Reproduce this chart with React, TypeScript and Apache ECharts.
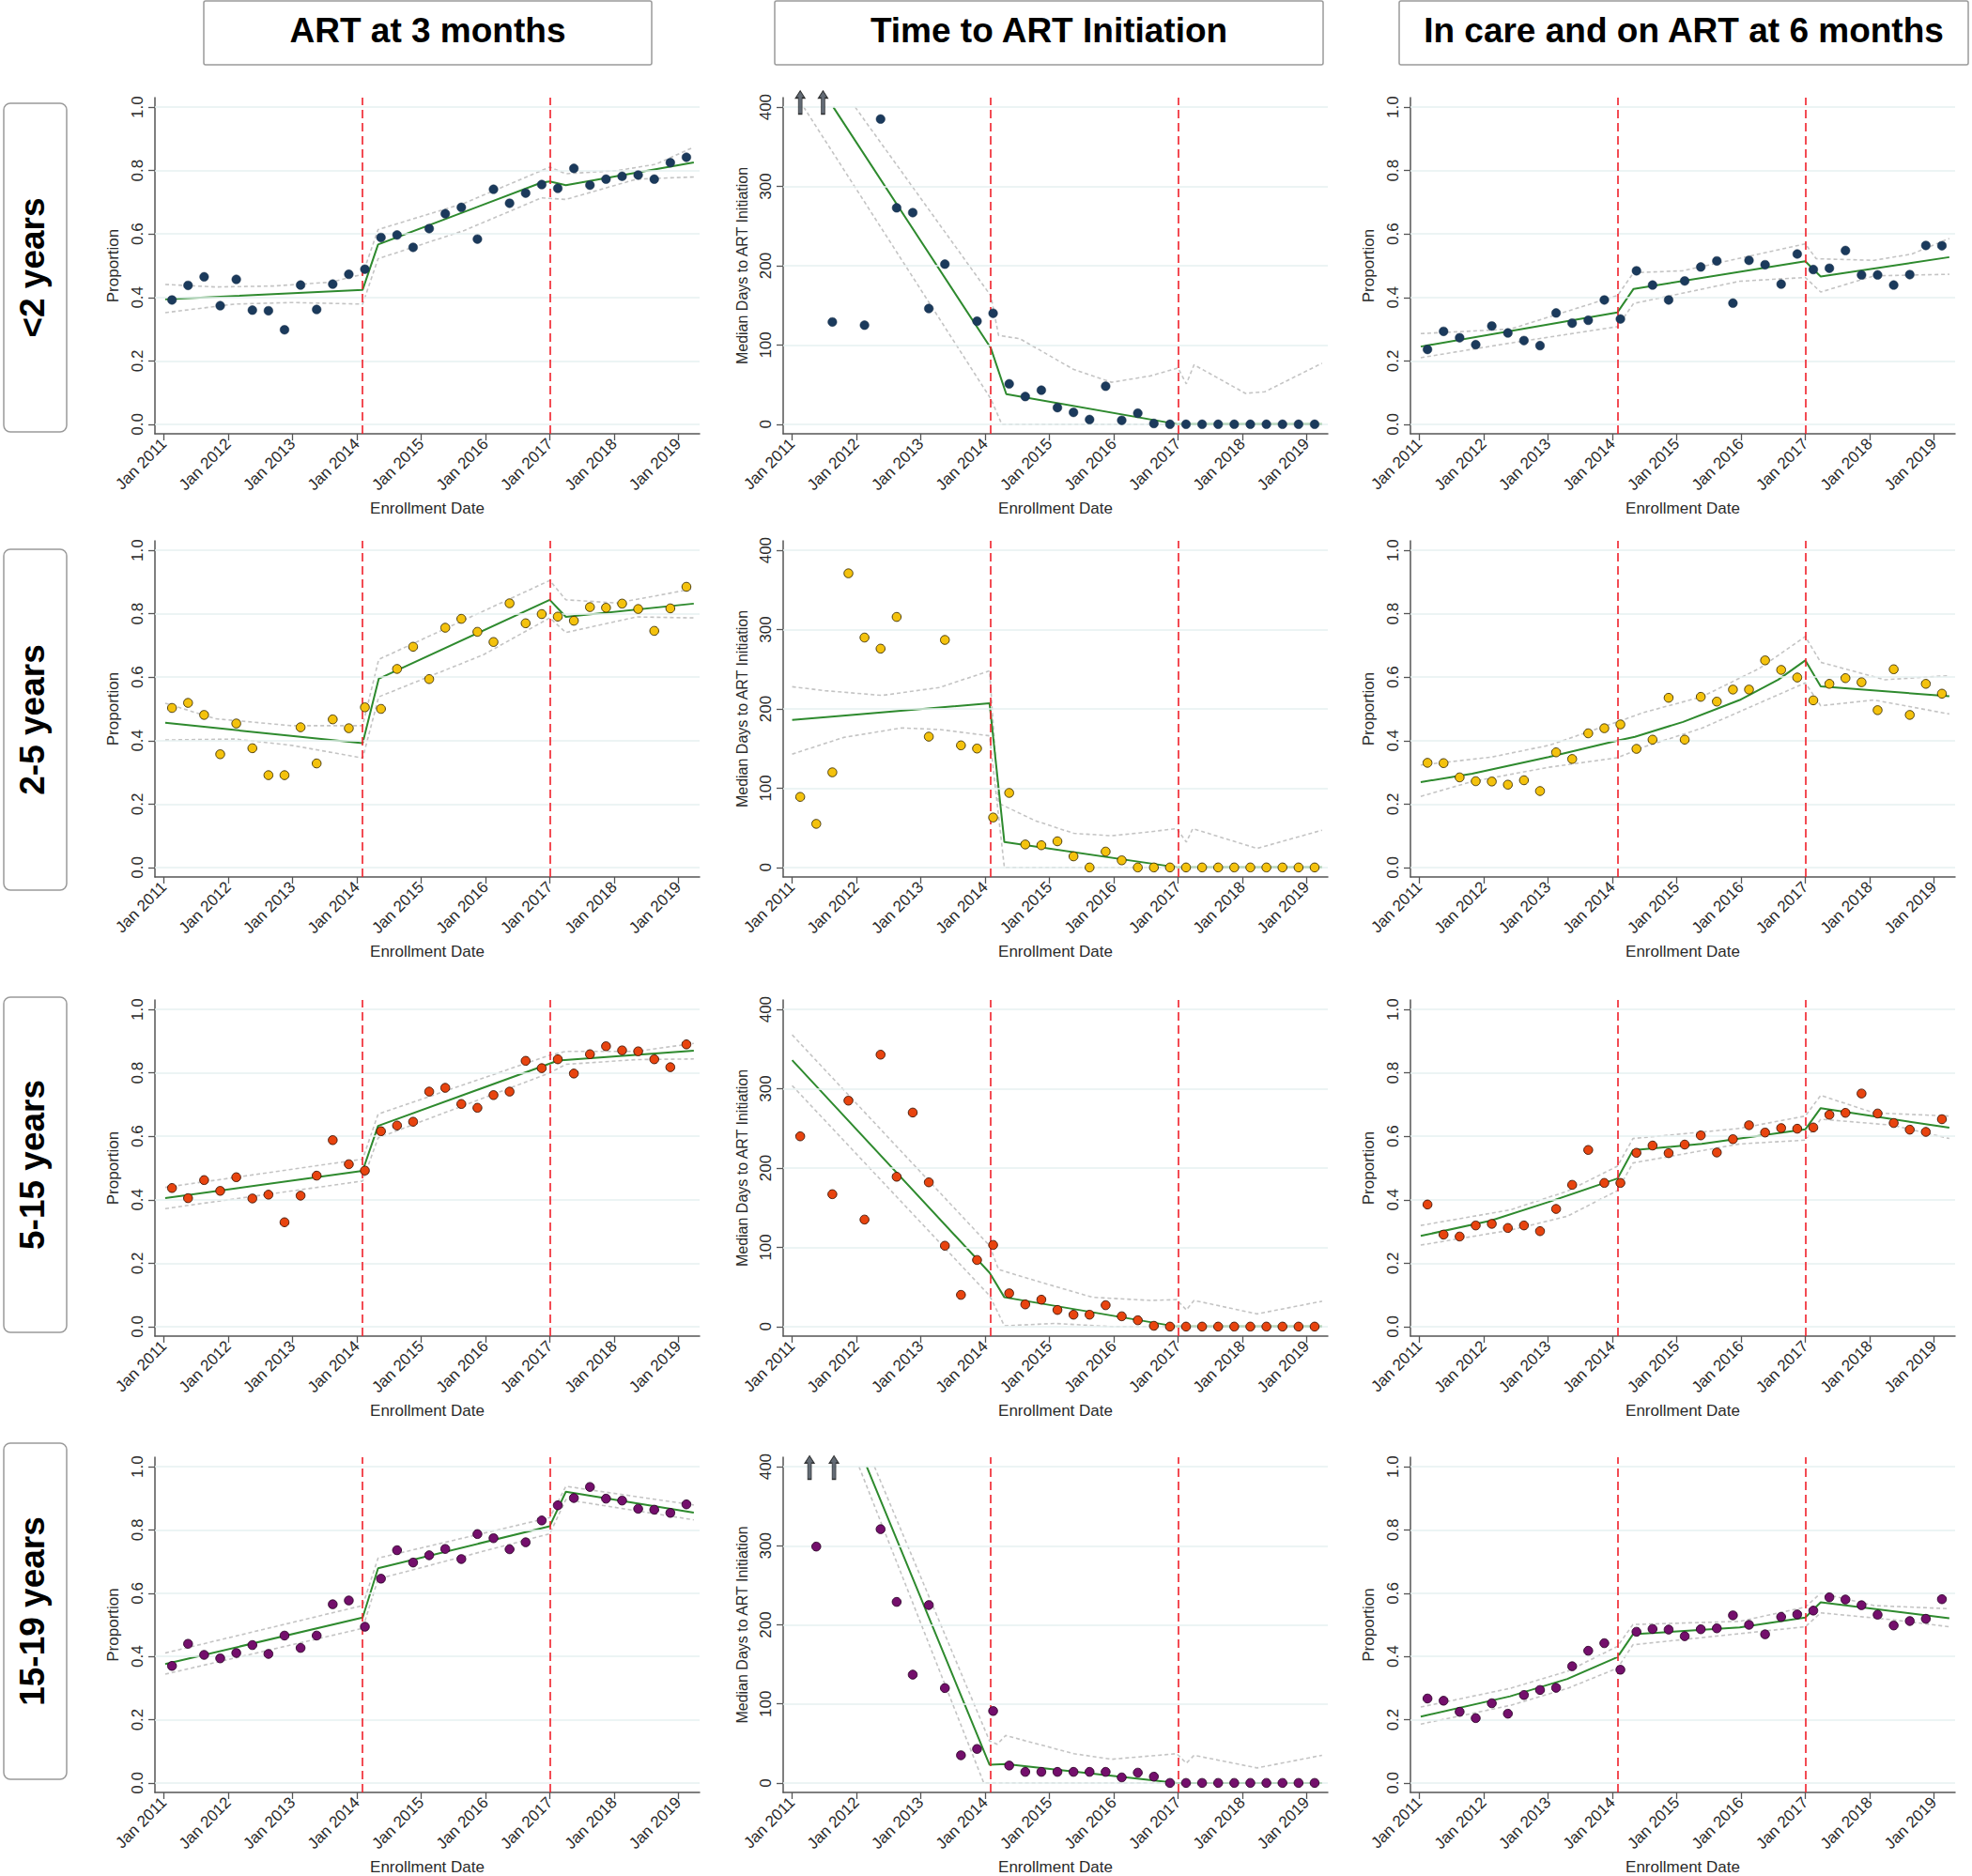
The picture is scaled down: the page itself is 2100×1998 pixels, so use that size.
import React, { useEffect, useRef } from "react";
import * as echarts from "echarts";

// ---------- axes / categories ----------
const yearTicks = [2011, 2012, 2013, 2014, 2015, 2016, 2017, 2018, 2019];
const propTicks = [0, 0.2, 0.4, 0.6, 0.8, 1.0];
const dayTicks = [0, 100, 200, 300, 400];
const interventionX = [2014.09, 2017.0];
const colTitles = ["ART at 3 months", "Time to ART Initiation", "In care and on ART at 6 months"];
const rowTitles = ["<2 years", "2-5 years", "5-15 years", "15-19 years"];

// quarter midpoints (Q1 2011 ... Q1 2019)
const quarterX = [
  2011.125, 2011.375, 2011.625, 2011.875, 2012.125, 2012.375, 2012.625, 2012.875,
  2013.125, 2013.375, 2013.625, 2013.875, 2014.125, 2014.375, 2014.625, 2014.875,
  2015.125, 2015.375, 2015.625, 2015.875, 2016.125, 2016.375, 2016.625, 2016.875,
  2017.125, 2017.375, 2017.625, 2017.875, 2018.125, 2018.375, 2018.625, 2018.875,
  2019.125,
];

// ---------- <2 years ----------
const art3Lt2 = [0.392, 0.438, 0.465, 0.374, 0.457, 0.36, 0.358, 0.298, 0.439, 0.362, 0.442, 0.473, 0.489, 0.589, 0.597, 0.558, 0.617, 0.664, 0.684, 0.584, 0.741, 0.697, 0.729, 0.756, 0.744, 0.807, 0.754, 0.773, 0.782, 0.786, 0.773, 0.825, 0.842];
const art3Lt2Fit = [[2011.02, 0.394], [2014.09, 0.424], [2014.33, 0.567], [2016.87, 0.762], [2017.0, 0.766], [2017.25, 0.754], [2019.24, 0.826]];
const art3Lt2Up = [[2011.02, 0.441], [2011.8, 0.433], [2012.7, 0.436], [2013.59, 0.448], [2014.09, 0.473], [2014.33, 0.614], [2015.67, 0.697], [2017.0, 0.811], [2017.25, 0.79], [2018.05, 0.8], [2018.65, 0.82], [2019.24, 0.874]];
const art3Lt2Lo = [[2011.02, 0.352], [2012.1, 0.379], [2012.99, 0.384], [2014.09, 0.379], [2014.33, 0.522], [2015.67, 0.611], [2016.87, 0.714], [2017.25, 0.709], [2018.35, 0.773], [2019.24, 0.78]];

const timeLt2 = [null, null, 129, null, 125, 385, 273, 267, 146, 202, null, 130, 140, 51, 35, 43, 21, 15, 6, 48, 5, 14, 1, 0, 0, 0, 0, 0, 0, 0, 0, 0, 0];
const timeLt2Arrows = [[2011.125, 406], [2011.48, 406]];
const timeLt2Fit = [[2011.64, 400], [2014.09, 96], [2014.33, 38], [2017.0, 0], [2019.24, 0]];
const timeLt2Up = [[2011.98, 400], [2014.09, 162], [2014.21, 112], [2014.54, 108], [2015.38, 69], [2015.97, 53], [2016.57, 61], [2017.0, 71], [2017.13, 51], [2017.25, 75], [2018.05, 39], [2018.35, 41], [2019.24, 77]];
const timeLt2Lo = [[2011.18, 400], [2014.09, 32], [2014.26, 0], [2019.24, 0]];

const careLt2 = [0.236, 0.293, 0.273, 0.251, 0.31, 0.288, 0.264, 0.248, 0.351, 0.319, 0.328, 0.392, 0.332, 0.484, 0.439, 0.392, 0.452, 0.496, 0.515, 0.382, 0.517, 0.503, 0.442, 0.537, 0.488, 0.492, 0.548, 0.471, 0.471, 0.439, 0.472, 0.564, 0.563];
const careLt2Fit = [[2011.02, 0.245], [2014.08, 0.353], [2014.33, 0.427], [2017.0, 0.514], [2017.24, 0.466], [2019.24, 0.527]];
const careLt2Up = [[2011.02, 0.286], [2012.41, 0.3], [2014.08, 0.406], [2014.33, 0.478], [2015.09, 0.484], [2017.0, 0.569], [2017.17, 0.522], [2018.07, 0.517], [2018.66, 0.537], [2019.24, 0.586]];
const careLt2Lo = [[2011.02, 0.21], [2012.41, 0.256], [2014.08, 0.308], [2014.33, 0.381], [2015.98, 0.451], [2017.0, 0.463], [2017.24, 0.417], [2018.07, 0.468], [2019.24, 0.473]];

// ---------- 2-5 years ----------
const art3Y25 = [0.503, 0.519, 0.481, 0.357, 0.454, 0.376, 0.291, 0.291, 0.442, 0.328, 0.467, 0.439, 0.505, 0.5, 0.626, 0.696, 0.594, 0.756, 0.784, 0.743, 0.711, 0.833, 0.77, 0.799, 0.791, 0.778, 0.821, 0.819, 0.832, 0.815, 0.746, 0.817, 0.885];
const art3Y25Fit = [[2011.02, 0.456], [2014.09, 0.392], [2014.34, 0.595], [2017.0, 0.844], [2017.25, 0.79], [2019.24, 0.832]];
const art3Y25Up = [[2011.02, 0.518], [2011.8, 0.469], [2012.99, 0.447], [2014.09, 0.447], [2014.34, 0.656], [2017.0, 0.905], [2017.25, 0.844], [2018.05, 0.834], [2019.24, 0.879]];
const art3Y25Lo = [[2011.02, 0.402], [2012.1, 0.405], [2012.99, 0.385], [2014.09, 0.345], [2014.34, 0.538], [2015.97, 0.671], [2017.0, 0.787], [2017.25, 0.741], [2018.35, 0.79], [2019.24, 0.787]];

const timeY25 = [89, 55, 120, 371, 290, 276, 316, null, 165, 287, 154, 150, 63, 94, 29, 28, 33, 14, 0, 20, 9, 0, 0, 0, 0, 0, 0, 0, 0, 0, 0, 0, 0];
const timeY25Fit = [[2011.0, 186], [2014.07, 207], [2014.3, 32], [2017.0, 0], [2019.24, 0]];
const timeY25Up = [[2011.0, 228], [2011.51, 223], [2012.4, 217], [2013.29, 227], [2014.07, 248], [2014.21, 81], [2014.78, 59], [2015.38, 43], [2015.97, 40], [2016.57, 45], [2016.98, 49], [2017.13, 32], [2017.23, 49], [2018.23, 24], [2019.24, 47]];
const timeY25Lo = [[2011.0, 143], [2011.8, 164], [2012.7, 176], [2013.29, 174], [2014.07, 166], [2014.3, 0], [2019.24, 0]];

const careY25 = [0.33, 0.329, 0.284, 0.272, 0.271, 0.261, 0.275, 0.241, 0.363, 0.342, 0.423, 0.439, 0.451, 0.374, 0.403, 0.535, 0.403, 0.538, 0.523, 0.561, 0.561, 0.653, 0.623, 0.599, 0.527, 0.579, 0.597, 0.584, 0.496, 0.625, 0.481, 0.579, 0.548];
const careY25Fit = [[2011.02, 0.269], [2011.82, 0.296], [2013.01, 0.348], [2014.08, 0.4], [2014.35, 0.412], [2015.1, 0.459], [2015.98, 0.528], [2016.58, 0.592], [2017.0, 0.653], [2017.24, 0.571], [2019.24, 0.54]];
const careY25Up = [[2011.02, 0.323], [2012.12, 0.348], [2013.01, 0.385], [2014.08, 0.459], [2014.49, 0.489], [2015.39, 0.538], [2016.28, 0.627], [2017.0, 0.728], [2017.24, 0.647], [2018.24, 0.592], [2019.24, 0.605]];
const careY25Lo = [[2011.02, 0.224], [2011.82, 0.271], [2013.01, 0.316], [2014.08, 0.346], [2014.49, 0.38], [2015.39, 0.439], [2016.28, 0.518], [2017.0, 0.582], [2017.24, 0.51], [2018.07, 0.528], [2019.24, 0.484]];

// ---------- 5-15 years ----------
const art3Y515 = [0.437, 0.405, 0.462, 0.428, 0.471, 0.404, 0.416, 0.329, 0.413, 0.476, 0.588, 0.512, 0.492, 0.616, 0.634, 0.646, 0.741, 0.753, 0.702, 0.69, 0.73, 0.741, 0.838, 0.815, 0.843, 0.798, 0.859, 0.884, 0.871, 0.868, 0.843, 0.818, 0.89];
const art3Y515Fit = [[2011.02, 0.405], [2014.09, 0.491], [2014.33, 0.633], [2016.86, 0.819], [2017.13, 0.839], [2019.24, 0.87]];
const art3Y515Up = [[2011.02, 0.439], [2014.09, 0.528], [2014.33, 0.67], [2017.0, 0.856], [2017.25, 0.868], [2018.35, 0.868], [2019.24, 0.893]];
const art3Y515Lo = [[2011.02, 0.372], [2014.09, 0.459], [2014.33, 0.595], [2017.0, 0.8], [2017.25, 0.827], [2018.35, 0.842], [2019.24, 0.844]];

const timeY515 = [240, null, 167, 285, 135, 343, 189, 270, 182, 102, 40, 84, 103, 42, 28, 34, 21, 15, 15, 27, 13, 8, 1, 0, 0, 0, 0, 0, 0, 0, 0, 0, 0];
const timeY515Fit = [[2011.0, 336], [2014.07, 68], [2014.3, 37], [2016.98, 0], [2019.24, 0]];
const timeY515Up = [[2011.0, 368], [2014.07, 102], [2014.21, 72], [2014.78, 58], [2015.67, 37], [2016.57, 33], [2016.98, 34], [2017.13, 21], [2017.25, 33], [2018.23, 16], [2019.24, 32]];
const timeY515Lo = [[2011.0, 304], [2014.07, 39], [2014.3, 1], [2015.08, 4], [2015.97, 0], [2019.24, 0]];

const careY515 = [0.385, 0.29, 0.284, 0.319, 0.324, 0.311, 0.319, 0.301, 0.371, 0.447, 0.557, 0.453, 0.453, 0.548, 0.571, 0.547, 0.574, 0.603, 0.549, 0.591, 0.635, 0.612, 0.626, 0.624, 0.628, 0.668, 0.674, 0.735, 0.672, 0.642, 0.621, 0.614, 0.654];
const careY515Fit = [[2011.02, 0.286], [2012.11, 0.334], [2013.01, 0.393], [2014.08, 0.467], [2014.32, 0.556], [2015.39, 0.576], [2017.0, 0.622], [2017.24, 0.689], [2019.24, 0.627]];
const careY515Up = [[2011.02, 0.319], [2012.41, 0.368], [2013.3, 0.427], [2014.08, 0.506], [2014.32, 0.593], [2015.98, 0.625], [2017.0, 0.664], [2017.24, 0.729], [2018.07, 0.674], [2019.24, 0.664]];
const careY515Lo = [[2011.02, 0.257], [2012.41, 0.304], [2013.3, 0.348], [2014.08, 0.429], [2014.32, 0.516], [2015.98, 0.576], [2017.0, 0.588], [2017.24, 0.654], [2018.36, 0.635], [2019.24, 0.593]];

// ---------- 15-19 years ----------
const art3Y1519 = [0.37, 0.44, 0.405, 0.394, 0.411, 0.436, 0.408, 0.466, 0.427, 0.466, 0.565, 0.577, 0.494, 0.646, 0.736, 0.697, 0.72, 0.74, 0.708, 0.787, 0.774, 0.739, 0.761, 0.83, 0.878, 0.901, 0.936, 0.899, 0.893, 0.867, 0.864, 0.854, 0.881];
const art3Y1519Fit = [[2011.02, 0.376], [2014.09, 0.523], [2014.33, 0.679], [2017.0, 0.812], [2017.25, 0.921], [2019.24, 0.855]];
const art3Y1519Up = [[2011.02, 0.411], [2014.09, 0.561], [2014.33, 0.711], [2017.0, 0.839], [2017.25, 0.938], [2019.24, 0.879]];
const art3Y1519Lo = [[2011.02, 0.344], [2014.09, 0.489], [2014.33, 0.645], [2017.0, 0.788], [2017.25, 0.896], [2019.24, 0.832]];

const timeY1519 = [null, 299, null, null, null, 321, 229, 137, 225, 120, 35, 43, 91, 22, 14, 14, 14, 14, 14, 14, 7, 13, 8, 0, 0, 0, 0, 0, 0, 0, 0, 0, 0];
const timeY1519Arrows = [[2011.27, 399], [2011.65, 399]];
const timeY1519Fit = [[2012.16, 400], [2014.07, 23], [2014.32, 24], [2016.86, 1], [2016.98, 0], [2019.24, 0]];
const timeY1519Up = [[2012.28, 400], [2014.07, 53], [2014.19, 49], [2014.32, 60], [2015.38, 37], [2015.97, 30], [2016.98, 37], [2017.13, 25], [2017.25, 35], [2018.23, 19], [2019.24, 35]];
const timeY1519Lo = [[2012.04, 400], [2013.98, 0], [2019.24, 0]];

const careY1519 = [0.267, 0.26, 0.225, 0.205, 0.252, 0.219, 0.278, 0.294, 0.301, 0.369, 0.418, 0.442, 0.358, 0.478, 0.487, 0.485, 0.464, 0.486, 0.489, 0.53, 0.5, 0.47, 0.525, 0.533, 0.545, 0.587, 0.58, 0.562, 0.532, 0.498, 0.512, 0.519, 0.581];
const careY1519Fit = [[2011.02, 0.21], [2012.41, 0.274], [2013.3, 0.329], [2014.08, 0.398], [2014.32, 0.47], [2015.98, 0.492], [2017.0, 0.523], [2017.24, 0.571], [2019.24, 0.521]];
const careY1519Up = [[2011.02, 0.24], [2012.41, 0.299], [2013.3, 0.353], [2014.08, 0.432], [2014.32, 0.501], [2015.98, 0.511], [2017.0, 0.556], [2017.24, 0.6], [2018.07, 0.561], [2019.24, 0.551]];
const careY1519Lo = [[2011.02, 0.186], [2012.41, 0.245], [2013.3, 0.299], [2014.08, 0.363], [2014.32, 0.437], [2015.98, 0.472], [2017.0, 0.494], [2017.24, 0.538], [2018.36, 0.516], [2019.24, 0.494]];

// ---------- styles / layout ----------
const rowColors = ["#1b3a5c", "#f4c20d", "#e8440f", "#740f6c"];
const rowBorders = ["#142c47", "#3a2c00", "#3a1000", "#2a0026"];
const colLeft = [165, 834, 1502];
const rowTop = [104, 576, 1065, 1552];
const plotW = 580;
const plotH = 358;
const FONT = "'Liberation Sans', Arial, Helvetica, sans-serif";
const AXIS_FONT = 17;

type Panel = {
  row: number; col: number; kind: "prop" | "days";
  pts: (number | null)[]; fit: number[][]; up: number[][]; lo: number[][]; arrows?: number[][];
};

const panels: Panel[] = [
  { row: 0, col: 0, kind: "prop", pts: art3Lt2, fit: art3Lt2Fit, up: art3Lt2Up, lo: art3Lt2Lo },
  { row: 0, col: 1, kind: "days", pts: timeLt2, fit: timeLt2Fit, up: timeLt2Up, lo: timeLt2Lo, arrows: timeLt2Arrows },
  { row: 0, col: 2, kind: "prop", pts: careLt2, fit: careLt2Fit, up: careLt2Up, lo: careLt2Lo },
  { row: 1, col: 0, kind: "prop", pts: art3Y25, fit: art3Y25Fit, up: art3Y25Up, lo: art3Y25Lo },
  { row: 1, col: 1, kind: "days", pts: timeY25, fit: timeY25Fit, up: timeY25Up, lo: timeY25Lo },
  { row: 1, col: 2, kind: "prop", pts: careY25, fit: careY25Fit, up: careY25Up, lo: careY25Lo },
  { row: 2, col: 0, kind: "prop", pts: art3Y515, fit: art3Y515Fit, up: art3Y515Up, lo: art3Y515Lo },
  { row: 2, col: 1, kind: "days", pts: timeY515, fit: timeY515Fit, up: timeY515Up, lo: timeY515Lo },
  { row: 2, col: 2, kind: "prop", pts: careY515, fit: careY515Fit, up: careY515Up, lo: careY515Lo },
  { row: 3, col: 0, kind: "prop", pts: art3Y1519, fit: art3Y1519Fit, up: art3Y1519Up, lo: art3Y1519Lo },
  { row: 3, col: 1, kind: "days", pts: timeY1519, fit: timeY1519Fit, up: timeY1519Up, lo: timeY1519Lo, arrows: timeY1519Arrows },
  { row: 3, col: 2, kind: "prop", pts: careY1519, fit: careY1519Fit, up: careY1519Up, lo: careY1519Lo },
];

const ARROW = "path://M5,0 L10,5 L7,5 L7,16 L3,16 L3,5 L0,5 Z";

function buildOption() {
  const grid: any[] = [];
  const xAxis: any[] = [];
  const yAxis: any[] = [];
  const series: any[] = [];
  const axisColor = "#555";
  const textColor = "#2a2a2a";

  panels.forEach((p, i) => {
    const isProp = p.kind === "prop";
    const ticks = isProp ? propTicks : dayTicks;
    grid.push({ left: colLeft[p.col], top: rowTop[p.row], width: plotW, height: plotH });
    xAxis.push({
      gridIndex: i, type: "value", min: 2010.86, max: 2019.33,
      axisLine: { show: true, onZero: false, lineStyle: { color: axisColor, width: 1.5 } },
      axisTick: { show: true, customValues: yearTicks, length: 7, lineStyle: { color: axisColor, width: 1.3 } },
      axisLabel: {
        customValues: yearTicks, rotate: 45, margin: 8, fontSize: AXIS_FONT, color: textColor, fontFamily: FONT,
        formatter: (v: number) => "Jan " + Math.round(v),
      },
      splitLine: { show: false },
      name: "Enrollment Date", nameLocation: "middle", nameGap: 71,
      nameTextStyle: { fontSize: AXIS_FONT, color: textColor, fontFamily: FONT },
    });
    yAxis.push({
      gridIndex: i, type: "value",
      min: isProp ? -0.03 : -12, max: isProp ? 1.03 : 412,
      axisLine: { show: true, onZero: false, lineStyle: { color: axisColor, width: 1.5 } },
      axisTick: { show: true, customValues: ticks, length: 7, lineStyle: { color: axisColor, width: 1.3 } },
      axisLabel: {
        customValues: ticks, rotate: 90, margin: 10, fontSize: AXIS_FONT, color: textColor, fontFamily: FONT,
        formatter: (v: number) => (isProp ? v.toFixed(1) : String(Math.round(v))),
      },
      splitLine: { show: false },
      name: isProp ? "Proportion" : "Median Days to ART Initiation",
      nameLocation: "middle", nameGap: 36, nameRotate: 90,
      nameTextStyle: { fontSize: isProp ? AXIS_FONT : 16, color: textColor, fontFamily: FONT },
    });

    const ciStyle = { color: "#c4c4c4", width: 1.6, type: [4, 3] };
    series.push({
      type: "line", xAxisIndex: i, yAxisIndex: i, data: p.lo, symbol: "none", silent: true, z: 2,
      lineStyle: ciStyle,
      markLine: {
        silent: true, symbol: ["none", "none"], label: { show: false }, animation: false,
        data: ticks.map((v) => ({ yAxis: v, lineStyle: { color: "#e6f0f0", type: "solid", width: 1.5 } })),
      },
    });
    series.push({
      type: "line", xAxisIndex: i, yAxisIndex: i, data: p.up, symbol: "none", silent: true, z: 2,
      lineStyle: ciStyle,
    });
    series.push({
      type: "line", xAxisIndex: i, yAxisIndex: i, data: p.fit, symbol: "none", silent: true, z: 3,
      lineStyle: { color: "#2e8a2e", width: 2 },
      markLine: {
        silent: true, symbol: ["none", "none"], label: { show: false }, animation: false,
        data: interventionX.map((v) => ({ xAxis: v, lineStyle: { color: "#f0202a", type: [9, 5], width: 1.6 } })),
      },
    });
    const pts = quarterX
      .map((x, k) => [x, p.pts[k]])
      .filter((d) => d[1] !== null && d[1] !== undefined);
    series.push({
      type: "scatter", xAxisIndex: i, yAxisIndex: i, data: pts, symbolSize: 9.5, z: 5,
      itemStyle: { color: rowColors[p.row], borderColor: rowBorders[p.row], borderWidth: p.row === 0 ? 0.5 : 0.9, opacity: 1 },
    });
    if (p.arrows) {
      series.push({
        type: "scatter", xAxisIndex: i, yAxisIndex: i, data: p.arrows, clip: false, z: 6,
        symbol: ARROW, symbolSize: [10, 25],
        itemStyle: { color: "#3c4652", borderColor: "#111", borderWidth: 1 },
      });
    }
  });

  const graphic: any[] = [];
  const headerBoxes = [[217, 694], [825, 1409], [1490, 2096]];
  headerBoxes.forEach((b, c) => {
    graphic.push({
      type: "rect", shape: { x: b[0], y: 1, width: b[1] - b[0], height: 68, r: 2 },
      style: { fill: "#fff", stroke: "#9a9a9a", lineWidth: 1.5 },
    });
    graphic.push({
      type: "text", x: (b[0] + b[1]) / 2, y: 32,
      style: { text: colTitles[c], fill: "#000", font: `bold 37px ${FONT}`, align: "center", verticalAlign: "middle" },
    });
  });
  const rowBoxes = [[110, 460], [585, 948], [1062, 1419], [1537, 1895]];
  rowBoxes.forEach((b, r) => {
    graphic.push({
      type: "rect", shape: { x: 4, y: b[0], width: 67, height: b[1] - b[0], r: 7 },
      style: { fill: "#fff", stroke: "#9a9a9a", lineWidth: 1.5 },
    });
    graphic.push({
      type: "text", x: 34, y: (b[0] + b[1]) / 2, rotation: Math.PI / 2,
      style: { text: rowTitles[r], fill: "#000", font: `bold 37px ${FONT}`, align: "center", verticalAlign: "middle" },
    });
  });

  return {
    animation: false,
    backgroundColor: "#ffffff",
    textStyle: { fontFamily: FONT },
    grid, xAxis, yAxis, series, graphic,
  };
}

export default function App() {
  const ref = useRef<HTMLDivElement>(null);
  useEffect(() => {
    if (!ref.current) return;
    const chart = echarts.init(ref.current, null, { renderer: "svg" });
    chart.setOption(buildOption());
    return () => chart.dispose();
  }, []);
  return (
    <div
      ref={ref}
      style={{ position: "absolute", left: 0, top: 0, width: 2100, height: 1998, background: "#fff" }}
    />
  );
}
